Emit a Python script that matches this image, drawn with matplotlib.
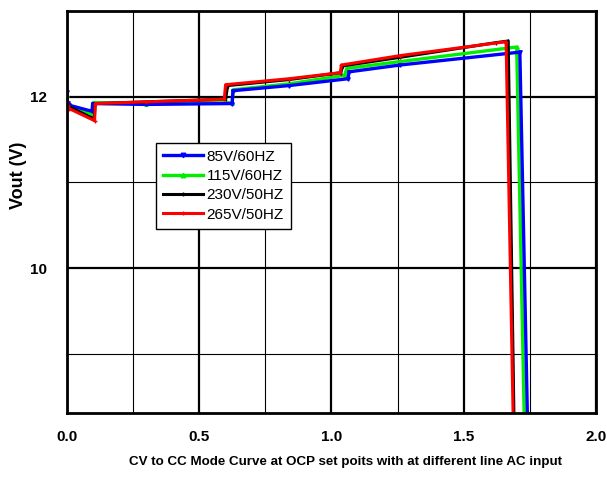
import numpy as np
import matplotlib
matplotlib.use("Agg")
import matplotlib.pyplot as plt
from matplotlib.ticker import MultipleLocator

# output current (A) vs output voltage (V)
x_85 = [0.000, 0.003, 0.010, 0.095, 0.098, 0.30, 0.625, 0.628, 0.84, 1.063, 1.066, 1.26, 1.712, 1.741]
v_85 = [12.05, 11.93, 11.90, 11.83, 11.92, 11.91, 11.92, 12.07, 12.13, 12.21, 12.29, 12.37, 12.52, 8.2]

x_115 = [0.000, 0.003, 0.010, 0.097, 0.100, 0.30, 0.625, 0.628, 0.84, 1.050, 1.058, 1.26, 1.700, 1.729]
v_115 = [12.02, 11.90, 11.87, 11.80, 11.93, 11.92, 11.93, 12.08, 12.15, 12.25, 12.33, 12.41, 12.58, 8.2]

x_230 = [0.000, 0.003, 0.010, 0.104, 0.107, 0.30, 0.600, 0.608, 0.84, 1.035, 1.043, 1.26, 1.62, 1.668, 1.690]
v_230 = [11.95, 11.92, 11.88, 11.74, 11.92, 11.94, 11.97, 12.13, 12.20, 12.28, 12.36, 12.46, 12.63, 12.65, 8.2]

x_265 = [0.000, 0.003, 0.010, 0.105, 0.108, 0.30, 0.595, 0.600, 0.84, 1.033, 1.038, 1.26, 1.655, 1.660, 1.687]
v_265 = [11.95, 11.90, 11.86, 11.72, 11.92, 11.94, 11.97, 12.14, 12.21, 12.28, 12.37, 12.48, 12.64, 12.64, 8.2]

labels = ["85V/60HZ", "115V/60HZ", "230V/50HZ", "265V/50HZ"]
xticklabels = ["0.0", "0.5", "1.0", "1.5", "2.0"]

fig = plt.figure(figsize=(6.07, 4.79), dpi=100)
ax = fig.add_axes([0.110, 0.138, 0.872, 0.839])

# draw order: green, blue, black, red (red ends up on top like the scan)
l115, = ax.plot(x_115, v_115, color="#00ee00", lw=2.4, marker="^", ms=2.5,
                markevery=0.006, label=labels[1])
l85, = ax.plot(x_85, v_85, color="#0000ff", lw=2.4, marker="v", ms=2.5,
               markevery=0.006, label=labels[0])
l230, = ax.plot(x_230, v_230, color="black", lw=2.2, marker="|", ms=2.5,
                markevery=0.006, label=labels[2])
l265, = ax.plot(x_265, v_265, color="#ff0000", lw=2.2, marker="+", ms=2.5,
                markevery=0.006, label=labels[3])

ax.set_xlim(0, 2.0)
ax.set_ylim(8.31, 13.0)
ax.xaxis.set_minor_locator(MultipleLocator(0.25))
ax.yaxis.set_major_locator(MultipleLocator(2))
ax.yaxis.set_minor_locator(MultipleLocator(1))
ax.set_xticks([0, 0.5, 1.0, 1.5, 2.0])
ax.set_xticklabels(xticklabels)

ax.grid(which="major", color="black", lw=1.6)
ax.grid(which="minor", color="black", lw=0.8)
ax.set_axisbelow(True)
ax.tick_params(which="both", length=0)
ax.tick_params(axis="y", pad=14)
ax.tick_params(axis="x", pad=12)
for t in ax.get_xticklabels() + ax.get_yticklabels():
    t.set_fontfamily(["Liberation Sans", "DejaVu Sans"])
    t.set_fontweight("bold")
    t.set_fontsize(11)
for s in ax.spines.values():
    s.set_linewidth(2)
    s.set_color("black")

ax.set_ylabel("Vout (V)", fontsize=13, fontweight="bold",
              family=["Liberation Sans", "DejaVu Sans"])
ax.yaxis.set_label_coords(-0.075, 0.59)
ax.set_xlabel("CV to CC Mode Curve at OCP set poits with at different line AC input",
              fontsize=9.6, fontweight="bold",
              family=["Liberation Sans", "DejaVu Sans"])
ax.xaxis.set_label_coords(0.526, -0.107)

leg = ax.legend(handles=[l85, l115, l230, l265], loc="upper left",
                bbox_to_anchor=(0.169, 0.672), fancybox=False, framealpha=1,
                edgecolor="black", handlelength=2.6, handletextpad=0.25,
                labelspacing=0.35, borderpad=0.45, borderaxespad=0,
                prop={"family": ["Liberation Sans", "DejaVu Sans"], "size": 11},
                numpoints=1, markerscale=1.3)
leg.get_frame().set_linewidth(1.0)

fig.savefig("out.png", dpi=100)
